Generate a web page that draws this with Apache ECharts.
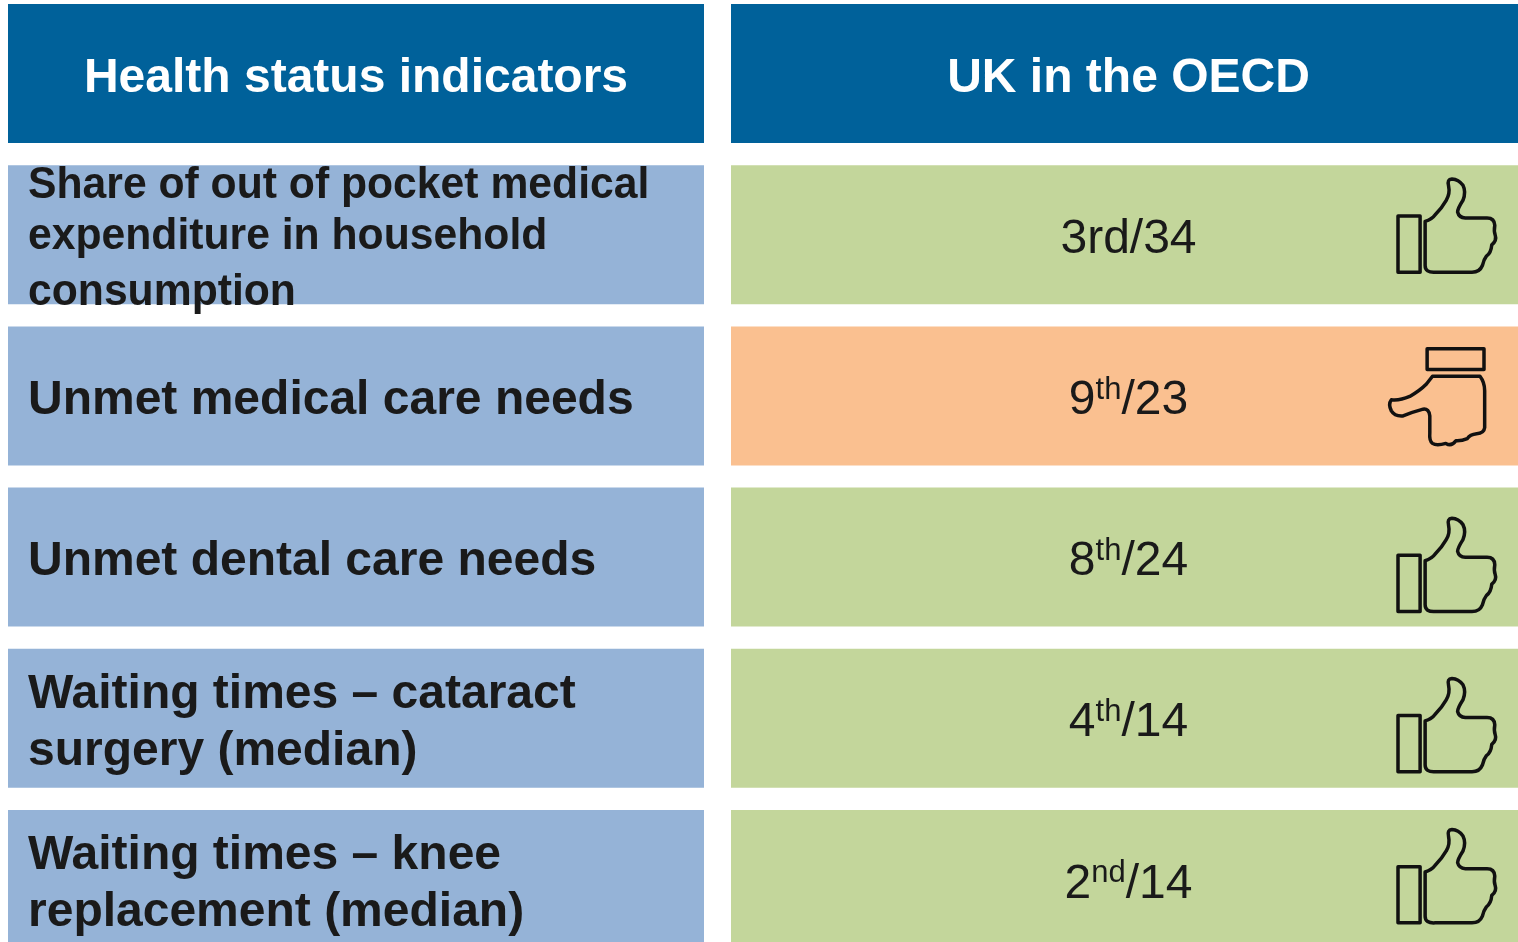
<!DOCTYPE html>
<html>
<head>
<meta charset="utf-8">
<title>UK in the OECD</title>
<script src="https://cdn.jsdelivr.net/npm/echarts@6/dist/echarts.min.js"></script>
<style>
  html, body { margin: 0; padding: 0; background: #fff; }
  #chart { width: 1518px; height: 942px; overflow: hidden; }
</style>
</head>
<body>
<div id="chart"></div>
<script>
const headers = ['Health status indicators', 'UK in the OECD']
const indicators = [
  ['Share of out of pocket medical', 'expenditure in household', 'consumption'],
  ['Unmet medical care needs'],
  ['Unmet dental care needs'],
  ['Waiting times \u2013 cataract', 'surgery (median)'],
  ['Waiting times \u2013 knee', 'replacement (median)']
]
const ranks = ['3', '9', '8', '4', '2']
const suffixes = ['rd', 'th', 'th', 'th', 'nd']
const raisedSuffix = [false, true, true, true, true]
const totals = [34, 23, 24, 14, 14]
const verdicts = ['good', 'bad', 'good', 'good', 'good']

// layout, in pixels of the 1518 wide axis
const leftCol = [8, 704]
const rightCol = [731, 1518]
const barHeight = 139
const lineOffsets = [[-49, 2, 58], [5], [5], [-23, 34], [-24, 33]]
const labelFonts = [44, 48, 48, 48, 48]
const labelScale = [0.97, 1, 1, 1, 1]
const iconOffsets = [0, 0, 17, 16, 6]

const colors = { header: '#00619a', label: '#95b3d7', good: '#c3d69b', bad: '#fac090', text: '#1a1a1a' }
const fontFamily = '"Liberation Sans", Arial, sans-serif'

// icons are traced at 3x, 0,0 being 1370 on x and the top of the row
const thumbUp = 'M165 168 Q185 162 195 148 Q215 128 228 105 Q240 85 235 62 Q230 42 245 41 Q265 42 278 60 Q288 80 278 105 Q262 130 262 140 Q266 157 285 158 L350 158 Q372 158 373 180 Q370 198 374 208 Q380 225 364 238 Q362 262 348 272 Q340 282 336 300 Q328 320 305 320 L195 320 Q165 322 165 300 Z M84 152 L150 152 L150 320 L84 320 Z'
const thumbDown = 'M188 632 L330 632 Q344 650 344 675 L344 785 Q342 802 320 803 Q300 805 292 818 Q275 825 258 824 Q245 842 228 832 Q200 840 188 832 Q178 825 180 800 L180 750 Q178 728 160 730 Q130 738 100 750 Q75 752 65 735 Q55 715 65 702 Q90 705 120 692 Q150 675 170 655 Z M172 550 L342 550 L342 612 L172 612 Z'
const thumbUpBox = [84, 41, 377, 321]
const thumbDownBox = [59, 550, 344, 838]

const chart = echarts.init(document.getElementById('chart'))

const renderRow = (params, api) => {
  const i = api.value(0)
  const y = api.coord([0, i])[1]
  const top = y - barHeight / 2
  const cell = (col, fill) => ({
    type: 'rect',
    shape: { x: col[0], y: top, width: col[1] - col[0], height: barHeight },
    style: { fill }
  })
  const rightMid = (rightCol[0] + rightCol[1]) / 2 + 4
  if (i === 0) {
    return {
      type: 'group',
      children: [
        cell(leftCol, colors.header),
        cell(rightCol, colors.header),
        { type: 'text', x: 356, y: y + 5, style: { text: headers[0], fill: '#fff', font: 'bold 48px ' + fontFamily, align: 'center', verticalAlign: 'middle' } },
        { type: 'text', x: rightMid, y: y + 5, style: { text: headers[1], fill: '#fff', font: 'bold 48px ' + fontFamily, align: 'center', verticalAlign: 'middle' } }
      ]
    }
  }
  const k = i - 1
  const good = verdicts[k] === 'good'
  const children = [cell(leftCol, colors.label), cell(rightCol, good ? colors.good : colors.bad)]
  indicators[k].forEach((line, n) => {
    children.push({
      type: 'text', x: 28, y: y + lineOffsets[k][n], scaleX: labelScale[k],
      style: { text: line, fill: colors.text, font: 'bold ' + labelFonts[k] + 'px ' + fontFamily, align: 'left', verticalAlign: 'middle' }
    })
  })
  const suffixToken = raisedSuffix[k] ? 's' : 'n'
  children.push({
    type: 'text', x: rightMid, y: y + 5,
    style: {
      text: `{n|${ranks[k]}}{${suffixToken}|${suffixes[k]}}{n|/${totals[k]}}`,
      align: 'center', verticalAlign: 'middle',
      rich: {
        n: { font: '48px ' + fontFamily, fill: colors.text, lineHeight: 52 },
        s: { font: '31px ' + fontFamily, fill: colors.text, lineHeight: 52, verticalAlign: 'top' }
      }
    }
  })
  const box = good ? thumbUpBox : thumbDownBox
  children.push({
    type: 'path',
    shape: {
      pathData: good ? thumbUp : thumbDown,
      layout: 'cover',
      x: 1370 + box[0] / 3,
      y: (good ? top : top - 161) + iconOffsets[k] + box[1] / 3,
      width: (box[2] - box[0]) / 3,
      height: (box[3] - box[1]) / 3
    },
    style: { fill: 'none', stroke: '#111', lineWidth: 3.5, lineJoin: 'round', strokeNoScale: true }
  })
  return { type: 'group', children }
}

chart.setOption({
  animation: false,
  backgroundColor: '#fff',
  grid: { left: 0, top: -7, width: 1518, height: 967, outerBoundsMode: 'none' },
  xAxis: { type: 'value', min: 0, max: 1518, show: false },
  yAxis: { type: 'category', inverse: true, show: false, data: ['header', ...indicators.map(l => l.join(' '))] },
  series: [{
    type: 'custom',
    clip: false,
    renderItem: renderRow,
    encode: { y: 0 },
    data: [0, 1, 2, 3, 4, 5].map(i => [i])
  }]
})
</script>
</body>
</html>
